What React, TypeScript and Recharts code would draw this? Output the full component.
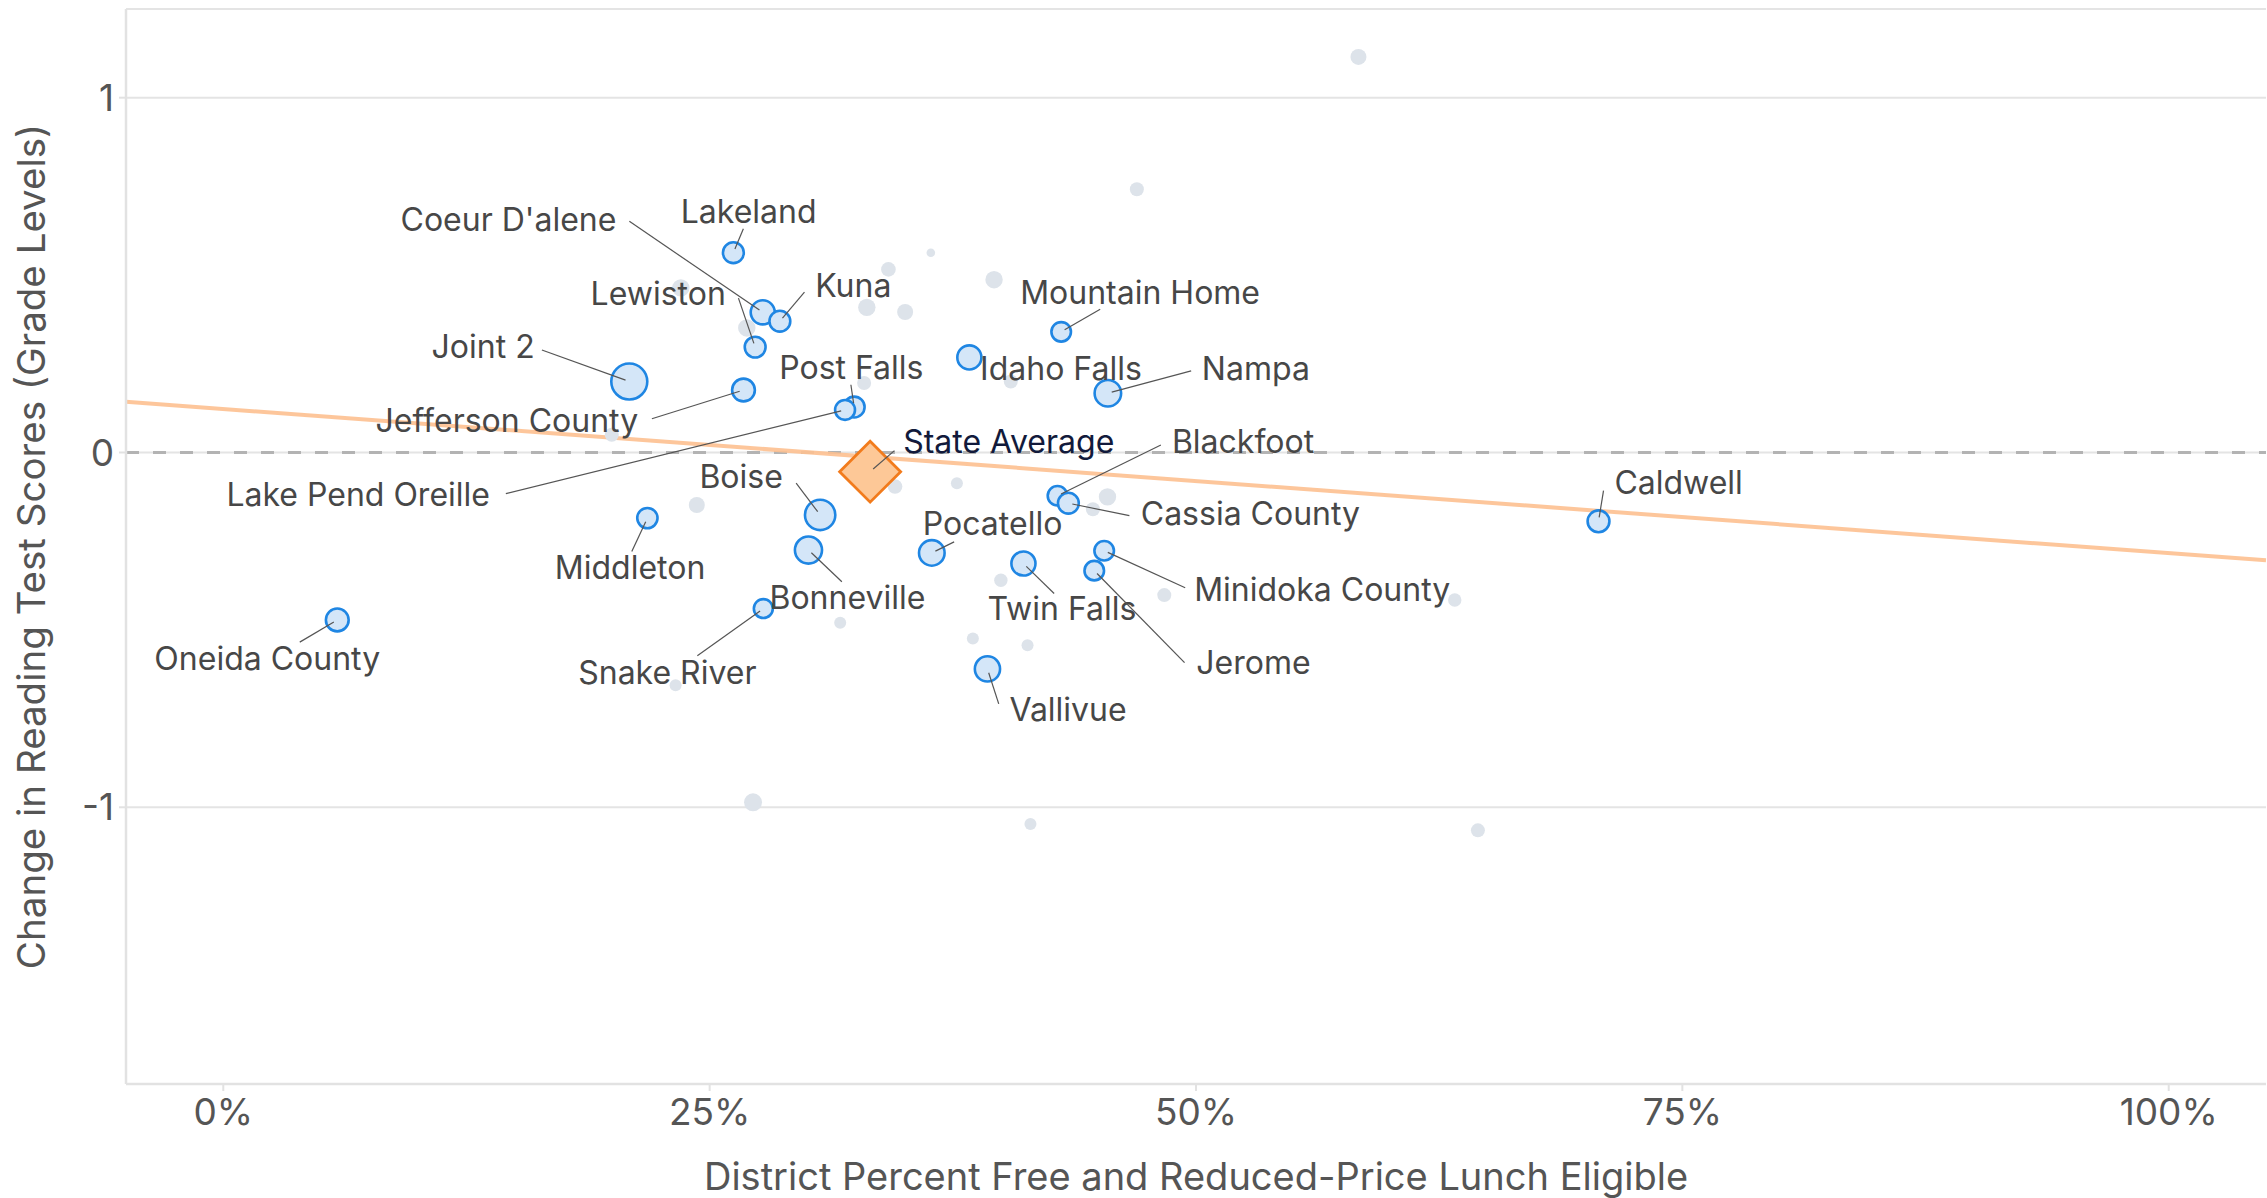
import { ScatterChart, Scatter, XAxis, YAxis, ZAxis, CartesianGrid, ReferenceLine } from 'recharts'

// labelled districts
const districts = [
  'Lakeland', "Coeur D'alene", 'Kuna', 'Lewiston', 'Joint 2', 'Jefferson County',
  'Post Falls', 'Lake Pend Oreille', 'Idaho Falls', 'Mountain Home', 'Nampa', 'Blackfoot',
  'Cassia County', 'Caldwell', 'Boise', 'Middleton', 'Bonneville', 'Pocatello',
  'Twin Falls', 'Minidoka County', 'Jerome', 'Oneida County', 'Snake River', 'Vallivue',
]
const districtFrl = [
  0.2622, 0.2773, 0.2861, 0.2734, 0.2087, 0.2674, 0.3243, 0.3196, 0.3835, 0.4307, 0.4547, 0.4288,
  0.4344, 0.7069, 0.3068, 0.218, 0.3008, 0.3642, 0.4113, 0.4528, 0.4477, 0.0586, 0.2776, 0.3928,
]
const districtChange = [
  0.563, 0.395, 0.37, 0.297, 0.2, 0.176, 0.128, 0.12, 0.268, 0.34, 0.167, -0.122,
  -0.143, -0.194, -0.176, -0.185, -0.275, -0.283, -0.313, -0.277, -0.333, -0.472, -0.44, -0.61,
]
const districtEnrollment = [
  13400, 17900, 13400, 13400, 40000, 16000, 13400, 12200, 17900, 11800, 21700, 11800,
  13400, 14700, 28400, 12700, 22700, 20200, 17900, 11800, 11800, 16000, 11100, 19600,
]

// other (unlabelled) districts
const otherFrl = [
  0.5835, 0.4696, 0.3637, 0.3419, 0.3962, 0.2352, 0.3308, 0.3505, 0.2691, 0.3294, 0.4048, 0.1997,
  0.3453, 0.3771, 0.2434, 0.4545, 0.447, 0.3997, 0.4837, 0.3171, 0.3853, 0.4134, 0.2325, 0.2723,
  0.4149, 0.6449, 0.633,
]
const otherChange = [
  1.115, 0.742, 0.563, 0.516, 0.487, 0.464, 0.409, 0.396, 0.351, 0.196, 0.2, 0.05,
  -0.096, -0.087, -0.148, -0.125, -0.16, -0.36, -0.402, -0.48, -0.524, -0.543, -0.656, -0.986,
  -1.047, -1.065, -0.416,
]
const otherEnrollment = [
  7900, 6050, 2280, 6580, 9350, 9350, 9350, 7900, 9350, 6050, 6050, 6050,
  6580, 4450, 7900, 9350, 6050, 5540, 6050, 4450, 4450, 4450, 4450, 10000,
  4450, 6050, 5540,
]

const stateAvgFrl = 0.3325
const stateAvgChange = -0.054

// fitted line, read at the plot edges
const trendFrl = [-0.05, 1.05]
const trendChange = [0.143, -0.304]

const xTicks = [0, 0.25, 0.5, 0.75, 1]
const yTicks = [-1, 0, 1]

// label placement relative to the point: text dx, dy, anchor, leader start dx, dy
const labelLayout: [number, number, string, number | null, number | null][] = [
  [-52.6, -29.3, 'start', 10, -24],
  [-146.4, -81.2, 'end', -133.4, -91],
  [35.3, -24.4, 'start', 24.6, -29],
  [-29.3, -42.3, 'end', -16.7, -49],
  [-94.6, -23.1, 'end', -87.4, -31.5],
  [-105.3, 42.2, 'end', -91.6, 28.7],
  [-75, -28, 'start', -3.3, -22.3],
  [-355.1, 96, 'end', -339.2, 83.7],
  [10.7, 22.3, 'start', null, null],
  [-41, -28, 'start', 39, -22.7],
  [94, -13.3, 'start', 83.3, -22.3],
  [114.4, -42.4, 'start', 103.4, -50.7],
  [72.4, 21.7, 'start', 61, 12.4],
  [15.9, -27.5, 'start', 5, -30.6],
  [-37.3, -26.7, 'end', -24, -31.7],
  [-17.3, 61, 'middle', -15.6, 33.4],
  [-39, 59, 'start', 33.4, 31.7],
  [-9, -17.7, 'start', 22.3, -11],
  [-36, 56.7, 'start', 30.7, 30],
  [90, 50, 'start', 81, 37],
  [102, 103.3, 'start', 90.3, 92],
  [-70, 50, 'middle', -37.5, 22.2],
  [-6.8, 75.1, 'end', -66, 47.2],
  [22, 52, 'start', 11.3, 35],
]

const FONT = "Inter, 'Noto Sans', sans-serif"

const labelled = districts.map((name, i) => ({
  name,
  x: districtFrl[i],
  y: districtChange[i],
  z: districtEnrollment[i],
  idx: i,
}))
const others = otherFrl.map((x, i) => ({ x, y: otherChange[i], z: otherEnrollment[i] }))
const stateAvg = [{ x: stateAvgFrl, y: stateAvgChange, z: 0 }]

function leader(cx: number, cy: number, dx: number, dy: number) {
  const len = Math.sqrt(dx * dx + dy * dy)
  const k = 4 / len
  return <line x1={cx + dx} y1={cy + dy} x2={cx + dx * k} y2={cy + dy * k} stroke="#555" strokeWidth={1.2} />
}

const OtherDot = (p: any) => <circle cx={p.cx} cy={p.cy} r={p.width / 2} fill="#dde3ea" />

const DistrictDot = (p: any) => (
  <circle cx={p.cx} cy={p.cy} r={p.width / 2} fill="#d4e6f8" stroke="#1f86e3" strokeWidth={2.6} />
)

const DistrictLabel = (p: any) => {
  const [tdx, tdy, anchor, ldx, ldy] = labelLayout[p.payload.idx]
  return (
    <g>
      {ldx !== null && ldy !== null && leader(p.cx, p.cy, ldx, ldy)}
      <text x={p.cx + tdx} y={p.cy + tdy} textAnchor={anchor as any} fill="#474747" fontSize={32} fontFamily={FONT}>
        {p.payload.name}
      </text>
    </g>
  )
}

const StateAvgMark = (p: any) => {
  const h = 30.5
  const { cx, cy } = p
  return (
    <g>
      <polygon
        points={`${cx},${cy - h} ${cx + h},${cy} ${cx},${cy + h} ${cx - h},${cy}`}
        fill="#fdc897"
        stroke="#f27b1c"
        strokeWidth={2.8}
      />
      {leader(cx, cy, 24.3, -21)}
      <text x={cx + 33} y={cy - 18.7} fill="#121a3b" fontSize={32} fontFamily={FONT}>
        State Average
      </text>
    </g>
  )
}

const XTitle = (p: any) => {
  const vb = p.viewBox
  return (
    <text x={vb.x + vb.width / 2} y={1190} textAnchor="middle" fill="#555" fontSize={38} fontFamily={FONT}>
      District Percent Free and Reduced-Price Lunch Eligible
    </text>
  )
}

const YTitle = (p: any) => {
  const vb = p.viewBox
  const cy = vb.y + vb.height / 2
  return (
    <text transform={`translate(45, ${cy}) rotate(-90)`} textAnchor="middle" fill="#555" fontSize={38.5} fontFamily={FONT}>
      Change in Reading Test Scores (Grade Levels)
    </text>
  )
}

const tickStyle = { fill: '#555', fontSize: 37, fontFamily: FONT }

export default function App() {
  return (
    <div style={{ width: 2267, height: 1198, background: '#fff' }}>
      <style>{'body{margin:0}'}</style>
      <ScatterChart width={2267} height={1198} margin={{ top: 9, right: 1, bottom: 0, left: 0 }}>
        <CartesianGrid vertical={false} stroke="#e4e4e4" strokeWidth={2} />
        <XAxis
          dataKey="x"
          type="number"
          domain={[-0.05, 1.05]}
          ticks={xTicks}
          tickFormatter={(v) => `${Math.round(v * 100)}%`}
          height={114}
          tickSize={7}
          tickMargin={8}
          axisLine={{ stroke: '#e2e2e2', strokeWidth: 2.5 }}
          tickLine={{ stroke: '#e2e2e2', strokeWidth: 2 }}
          tick={tickStyle}
          label={{ content: XTitle }}
        />
        <YAxis
          dataKey="y"
          type="number"
          domain={[-1.78, 1.25]}
          ticks={yTicks}
          width={126}
          tickSize={7}
          tickMargin={5}
          axisLine={{ stroke: '#e2e2e2', strokeWidth: 2.5 }}
          tickLine={{ stroke: '#e2e2e2', strokeWidth: 2 }}
          tick={tickStyle}
          label={{ content: YTitle }}
        />
        <ZAxis dataKey="z" type="number" domain={[0, 40000]} range={[0, 1018]} />
        <ReferenceLine y={0} stroke="#b3b3b3" strokeWidth={3} strokeDasharray="13 14" />
        <ReferenceLine
          segment={[
            { x: trendFrl[0], y: trendChange[0] },
            { x: trendFrl[1], y: trendChange[1] },
          ]}
          stroke="#fdc090"
          strokeOpacity={0.9}
          strokeWidth={4}
          ifOverflow="visible"
        />
        <Scatter data={others} shape={OtherDot} isAnimationActive={false} />
        <Scatter data={labelled} shape={DistrictDot} isAnimationActive={false} />
        <Scatter data={stateAvg} shape={StateAvgMark} isAnimationActive={false} />
        <Scatter data={labelled} shape={DistrictLabel} isAnimationActive={false} />
      </ScatterChart>
    </div>
  )
}
